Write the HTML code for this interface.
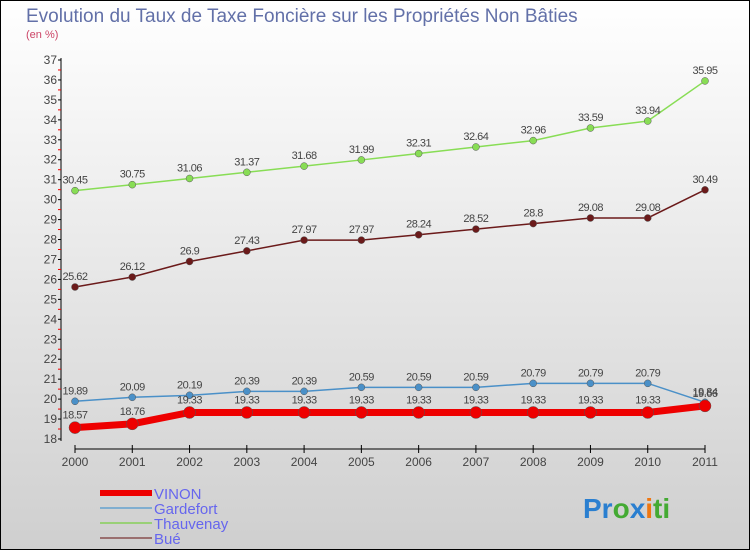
<!DOCTYPE html>
<html><head><meta charset="utf-8"><style>
body{margin:0}
#c{width:750px;height:550px;position:relative;overflow:hidden;font-family:"Liberation Sans",sans-serif}
</style></head><body>
<div id="c">
<svg id="s" width="750" height="550" xmlns="http://www.w3.org/2000/svg">
<defs><linearGradient id="bg" x1="0" y1="0" x2="0" y2="1"><stop offset="0" stop-color="#ffffff"/><stop offset="1" stop-color="#cfcfcf"/></linearGradient></defs>
<rect x="0.5" y="0.5" width="749" height="549" fill="url(#bg)" stroke="#000"/>
<text x="26" y="22" font-size="19" fill="#6270a8">Evolution du Taux de Taxe Foncière sur les Propriétés Non Bâties</text>
<text x="26" y="38" font-size="11" fill="#cc4466">(en %)</text>
<g id="axes"></g><g id="series"></g><g id="legend"></g>
<text x="583" y="518" font-size="28" font-weight="bold"><tspan fill="#2a7fd0">Pr</tspan><tspan fill="#44aa33">o</tspan><tspan fill="#2a7fd0">x</tspan><tspan fill="#ee7711">i</tspan><tspan fill="#44aa33">ti</tspan></text>
</svg></div>
<script>
const years=[2000,2001,2002,2003,2004,2005,2006,2007,2008,2009,2010,2011];
const vinon=[18.57,18.76,19.33,19.33,19.33,19.33,19.33,19.33,19.33,19.33,19.33,19.66];
const gardefort=[19.89,20.09,20.19,20.39,20.39,20.59,20.59,20.59,20.79,20.79,20.79,19.84];
const thauvenay=[30.45,30.75,31.06,31.37,31.68,31.99,32.31,32.64,32.96,33.59,33.94,35.95];
const bue=[25.62,26.12,26.9,27.43,27.97,27.97,28.24,28.52,28.8,29.08,29.08,30.49];
const yTicks=[18,19,20,21,22,23,24,25,26,27,28,29,30,31,32,33,34,35,36,37];
const NS="http://www.w3.org/2000/svg";
const X=i=>75+i*(630/11), Y=v=>439-(v-18)*(379/19);
function mk(p,t,a){const e=document.createElementNS(NS,t);for(const k in a)e.setAttribute(k,a[k]);p.appendChild(e);return e;}
const ax=document.getElementById('axes');
const yl=mk(ax,'line',{x1:61,y1:58,x2:61,y2:441,stroke:'#000'});


yTicks.forEach(v=>{
 mk(ax,'line',{x1:58,x2:61,y1:Y(v),y2:Y(v),stroke:'#000'});
 if(v<37)mk(ax,'line',{x1:58,x2:61,y1:Y(v+0.5),y2:Y(v+0.5),stroke:'#e00'});
 const t=mk(ax,'text',{x:57,y:Y(v)+4,'text-anchor':'end','font-size':12,fill:'#444'});t.textContent=v;
 
 
});
const xl=mk(ax,'line',{x1:X(0),y1:449,x2:X(11),y2:449,stroke:'#000'});


years.forEach((y,i)=>{
 mk(ax,'line',{x1:X(i),x2:X(i),y1:445,y2:453,stroke:'#000'});
 const t=mk(ax,'text',{x:X(i),y:466,'text-anchor':'middle','font-size':12,fill:'#444'});t.textContent=y;
 
 
});
const sg=document.getElementById('series');
function draw(name,vals,col,w,r,off){
 const g=mk(sg,'g',{});
 
 
 mk(g,'polyline',{points:vals.map((v,i)=>X(i)+','+Y(v)).join(' '),fill:'none',stroke:col,'stroke-width':w});
 vals.forEach((v,i)=>{
  const c=mk(g,'circle',{cx:X(i),cy:Y(v),r:r,fill:col,stroke:'#555','stroke-width':0.5});
  
  
  const t=mk(g,'text',{x:X(i),y:Y(v)+off,'text-anchor':'middle','font-size':11,fill:'#444','letter-spacing':'-0.5'});t.textContent=v;
  
  
 });
}
draw('thauvenay',thauvenay,'#88dd55',1.5,3.5,-7);
draw('bue',bue,'#6b1a1a',1.5,3.5,-7);
draw('gardefort',gardefort,'#4a90c8',1.5,3.5,-7);
draw('vinon',vinon,'#ee0000',7,6,-9);
const lg=document.getElementById('legend');
[['VINON','#ee0000',6],['Gardefort','#80aed0',2],['Thauvenay','#99d077',2],['Bué','#9a6f6f',2]].forEach((d,i)=>{
 const y=493+i*15;
 const l=mk(lg,'line',{x1:100,x2:152,y1:y,y2:y,stroke:d[1],'stroke-width':d[2]});
 
 
 const t=mk(lg,'text',{x:154,y:y+6,'font-size':15,fill:'#6666ee'});t.textContent=d[0];
 
 
});
</script>
</body></html>
